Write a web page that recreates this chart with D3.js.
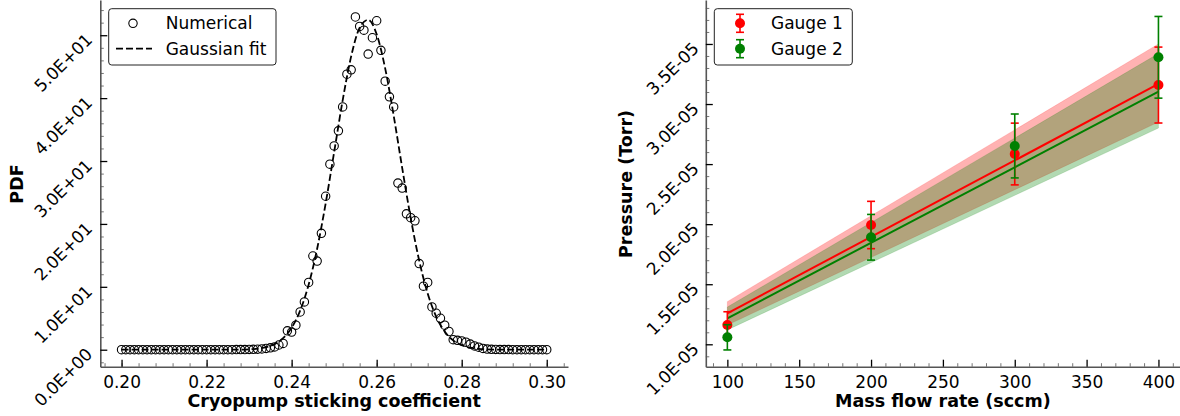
<!DOCTYPE html>
<html>
<head>
<meta charset="utf-8">
<script src="https://d3js.org/d3.v7.min.js"></script>
<style>
body { margin: 0; background: #fff; }
text { font-family: "DejaVu Sans", sans-serif; }
</style>
</head>
<body>
<svg id="chart" width="1180" height="416"></svg>
<script>
// ---- left panel data: PDF of the cryopump sticking coefficient ----
const pdfStart = 0.2, pdfStep = 0.001;
const pdfValues = [
  0,0,0,0,0,0,0,0,0,0, 0,0,0,0,0,0,0,0,0,0, 0,0,0,0,0,
  0.01,0.01,0.02,0.02,0.03,
  0.04,0.06,0.09,0.13,0.2,0.3,0.45,0.75,
  1.0,3.0,2.8,3.9,6.0,7.6,10.7,14.9,14.1,18.5,
  24.4,29.5,32.4,34.8,38.6,43.8,44.5,52.9,51.4,50.8,
  47.0,49.6,52.3,47.6,42.7,40.2,38.6,26.5,25.7,21.6,
  21.0,20.5,13.7,10.1,10.7,6.8,5.8,5.0,3.9,2.9,
  1.6,1.5,1.4,1.2,0.9,0.6,0.4,0.2,0.1,0.06,0.04,
  0.03,0.02,0.02,0.01,0.01,0.01,0,0,0,0,0,0
];
const fitStep = 0.002;
const fitValues = [
  0,0,0,0,0,0,0,0,0,0,0,0,0,0,
  0.02,0.07,0.17,0.41,0.89,1.83,3.49,6.21,10.34,16.05,23.25,
  31.42,39.63,46.63,51.2,52.46,50.15,44.73,37.23,28.92,20.96,
  14.17,8.94,5.26,2.89,1.48,0.71,0.32,0.13,0.05,0.02,
  0,0,0,0,0,0
];
const pdfXTicks = [0.20, 0.22, 0.24, 0.26, 0.28, 0.30];
const pdfYTicks = [0, 10, 20, 30, 40, 50];
const pdfYTickLabels = ["0.0E+00","1.0E+01","2.0E+01","3.0E+01","4.0E+01","5.0E+01"];

// ---- right panel data: pressure vs mass flow ----
const flowRates = [100, 200, 300, 400];
const gauge1 = [1.161e-5, 1.993e-5, 2.584e-5, 3.158e-5];
const gauge1Err = [0.11e-5, 0.197e-5, 0.257e-5, 0.316e-5];
const gauge2 = [1.058e-5, 1.891e-5, 2.651e-5, 3.389e-5];
const gauge2Err = [0.105e-5, 0.19e-5, 0.266e-5, 0.34e-5];
const fitFlow = [100, 400];
const gauge1Fit = [1.258e-5, 3.167e-5];
const gauge1Lo = [1.16e-5, 2.85e-5];
const gauge1Hi = [1.355e-5, 3.5e-5];
const gauge2Fit = [1.216e-5, 3.103e-5];
const gauge2Lo = [1.12e-5, 2.8e-5];
const gauge2Hi = [1.31e-5, 3.42e-5];
const flowTicks = [100, 150, 200, 250, 300, 350, 400];
const pressureTicks = [1.0e-5, 1.5e-5, 2.0e-5, 2.5e-5, 3.0e-5, 3.5e-5];
const pressureTickLabels = ["1.0E-05","1.5E-05","2.0E-05","2.5E-05","3.0E-05","3.5E-05"];

const svg = d3.select("#chart");
const bottom = 366.7;
const red = "#ff0000", green = "#008000";

function drawAxes(g, x, y, opt) {
  const xa = g.append("g").attr("transform", `translate(0,${bottom})`)
    .call(d3.axisBottom(x).tickValues(opt.xMinor).tickSizeInner(-3.5).tickSizeOuter(0).tickFormat(""));
  xa.select(".domain").remove();
  xa.selectAll("line").attr("stroke", "#777");
  const ya = g.append("g").attr("transform", `translate(${x.range()[0]},0)`)
    .call(d3.axisLeft(y).tickValues(opt.yMinor).tickSizeInner(-3.5).tickSizeOuter(0).tickFormat(""));
  ya.select(".domain").remove();
  ya.selectAll("line").attr("stroke", "#777");

  const xb = g.append("g").attr("transform", `translate(0,${bottom})`)
    .call(d3.axisBottom(x).tickValues(opt.xTicks).tickSizeInner(-7).tickSizeOuter(0)
      .tickPadding(9).tickFormat(opt.xFormat));
  xb.selectAll("text").attr("font-size", 17).attr("fill", "#000");
  xb.selectAll("line").attr("stroke", "#000").attr("stroke-width", 1.3);
  xb.select(".domain").attr("stroke", "#555").attr("stroke-width", 1.6);

  const yb = g.append("g").attr("transform", `translate(${x.range()[0]},0)`)
    .call(d3.axisLeft(y).tickValues(opt.yTicks).tickSizeInner(-7).tickSizeOuter(0)
      .tickFormat((d, i) => opt.yLabels[i]));
  yb.selectAll("line").attr("stroke", "#000").attr("stroke-width", 1.3);
  yb.select(".domain").attr("stroke", "#555").attr("stroke-width", 1.6);
  yb.selectAll("text")
    .attr("x", 0).attr("dy", "0.35em")
    .attr("text-anchor", "end").attr("font-size", 17).attr("fill", "#000")
    .attr("transform", `translate(${opt.labelShift},1) rotate(-45)`);

  g.append("text").attr("font-size", 17.5).attr("font-weight", "bold")
    .attr("text-anchor", "middle")
    .attr("x", (x.range()[0] + x.range()[1]) / 2).attr("y", 407)
    .text(opt.xTitle);
  g.append("text").attr("font-size", 17.5).attr("font-weight", "bold")
    .attr("text-anchor", "middle")
    .attr("transform", `translate(${opt.yTitleX},184) rotate(-90)`)
    .text(opt.yTitle);
}

// ---------- left panel ----------
const left = svg.append("g");
const xL = d3.scaleLinear().domain([0.195, 0.305]).range([100.3, 568]);
const yL = d3.scaleLinear().domain([-2.70, 55.6]).range([bottom, 0]);

drawAxes(left, xL, yL, {
  xTicks: pdfXTicks, xFormat: d3.format(".2f"),
  xMinor: d3.range(0.196, 0.305, 0.004),
  yTicks: pdfYTicks, yLabels: pdfYTickLabels,
  yMinor: d3.range(-2, 56, 2).filter(v => v % 10 !== 0),
  xTitle: "Cryopump sticking coefficient", yTitle: "PDF", yTitleX: 23, labelShift: -11
});

left.append("path")
  .datum(fitValues)
  .attr("fill", "none").attr("stroke", "#000").attr("stroke-width", 1.8)
  .attr("stroke-dasharray", "7,3")
  .attr("d", d3.line().curve(d3.curveMonotoneX)
    .x((d, i) => xL(pdfStart + i * fitStep)).y(d => yL(d)));

left.selectAll("circle.num")
  .data(pdfValues).join("circle")
  .attr("class", "num")
  .attr("cx", (d, i) => xL(pdfStart + i * pdfStep))
  .attr("cy", d => yL(d))
  .attr("r", 4.2)
  .attr("fill", "none").attr("stroke", "#000").attr("stroke-width", 1.1);

// legend
const legL = left.append("g");
legL.append("rect").attr("x", 108.7).attr("y", 8.7).attr("width", 167.3).attr("height", 56.3)
  .attr("rx", 3).attr("fill", "#fff").attr("stroke", "#222").attr("stroke-width", 1);
legL.append("circle").attr("cx", 133).attr("cy", 23.3).attr("r", 4.2)
  .attr("fill", "none").attr("stroke", "#000").attr("stroke-width", 1.1);
legL.append("line").attr("x1", 116).attr("x2", 152).attr("y1", 48.7).attr("y2", 48.7)
  .attr("stroke", "#000").attr("stroke-width", 1.8).attr("stroke-dasharray", "7,3");
legL.append("text").attr("x", 165.7).attr("y", 23.3).attr("dy", "0.35em").attr("font-size", 17).text("Numerical");
legL.append("text").attr("x", 165.7).attr("y", 49).attr("dy", "0.35em").attr("font-size", 17).text("Gaussian fit");

// ---------- right panel ----------
const right = svg.append("g");
const xR = d3.scaleLinear().domain([85, 415]).range([705.8, 1180]);
const yR = d3.scaleLinear().domain([0.8135e-5, 3.866e-5]).range([bottom, 0]);

drawAxes(right, xR, yR, {
  xTicks: flowTicks, xFormat: d3.format("d"),
  xMinor: d3.range(90, 415, 10).filter(v => v % 50 !== 0),
  yTicks: pressureTicks, yLabels: pressureTickLabels,
  yMinor: d3.range(9, 39, 1).filter(v => v % 5 !== 0).map(v => v * 1e-6),
  xTitle: "Mass flow rate (sccm)", yTitle: "Pressure (Torr)", yTitleX: 632, labelShift: -10
});

function band(lo, hi, color) {
  right.append("path")
    .datum(fitFlow.map((f, i) => ({ f, lo: lo[i], hi: hi[i] })))
    .attr("fill", color).attr("fill-opacity", 0.3)
    .attr("stroke", color).attr("stroke-opacity", 0.15)
    .attr("d", d3.area().x(d => xR(d.f)).y0(d => yR(d.lo)).y1(d => yR(d.hi)));
}
band(gauge1Lo, gauge1Hi, red);
band(gauge2Lo, gauge2Hi, green);

function fitLine(vals, color) {
  right.append("path").datum(vals)
    .attr("fill", "none").attr("stroke", color).attr("stroke-width", 2)
    .attr("d", d3.line().x((d, i) => xR(fitFlow[i])).y(d => yR(d)));
}
fitLine(gauge1Fit, red);
fitLine(gauge2Fit, green);

function errPoints(vals, errs, color) {
  const g = right.append("g");
  const pts = g.selectAll("g").data(vals.map((v, i) => ({ f: flowRates[i], v, e: errs[i] }))).join("g");
  pts.append("line")
    .attr("x1", d => xR(d.f)).attr("x2", d => xR(d.f))
    .attr("y1", d => yR(d.v - d.e)).attr("y2", d => yR(d.v + d.e))
    .attr("stroke", color).attr("stroke-width", 1.6);
  [-1, 1].forEach(s => {
    pts.append("line")
      .attr("x1", d => xR(d.f) - 4).attr("x2", d => xR(d.f) + 4)
      .attr("y1", d => yR(d.v + s * d.e)).attr("y2", d => yR(d.v + s * d.e))
      .attr("stroke", color).attr("stroke-width", 1.6);
  });
  pts.append("circle").attr("cx", d => xR(d.f)).attr("cy", d => yR(d.v)).attr("r", 5).attr("fill", color);
}
errPoints(gauge1, gauge1Err, red);
errPoints(gauge2, gauge2Err, green);

// legend
const legR = right.append("g");
legR.append("rect").attr("x", 714.3).attr("y", 8.7).attr("width", 138).attr("height", 56.3)
  .attr("rx", 3).attr("fill", "#fff").attr("stroke", "#222").attr("stroke-width", 1);
[["Gauge 1", red, 23.3], ["Gauge 2", green, 48.7]].forEach(([name, color, cy]) => {
  legR.append("line").attr("x1", 740).attr("x2", 740).attr("y1", cy - 9).attr("y2", cy + 9)
    .attr("stroke", color).attr("stroke-width", 1.6);
  legR.append("line").attr("x1", 736).attr("x2", 744).attr("y1", cy - 9).attr("y2", cy - 9)
    .attr("stroke", color).attr("stroke-width", 1.6);
  legR.append("line").attr("x1", 736).attr("x2", 744).attr("y1", cy + 9).attr("y2", cy + 9)
    .attr("stroke", color).attr("stroke-width", 1.6);
  legR.append("circle").attr("cx", 740).attr("cy", cy).attr("r", 5).attr("fill", color);
  legR.append("text").attr("x", 771).attr("y", cy).attr("dy", "0.35em").attr("font-size", 17).text(name);
});
</script>
</body>
</html>
